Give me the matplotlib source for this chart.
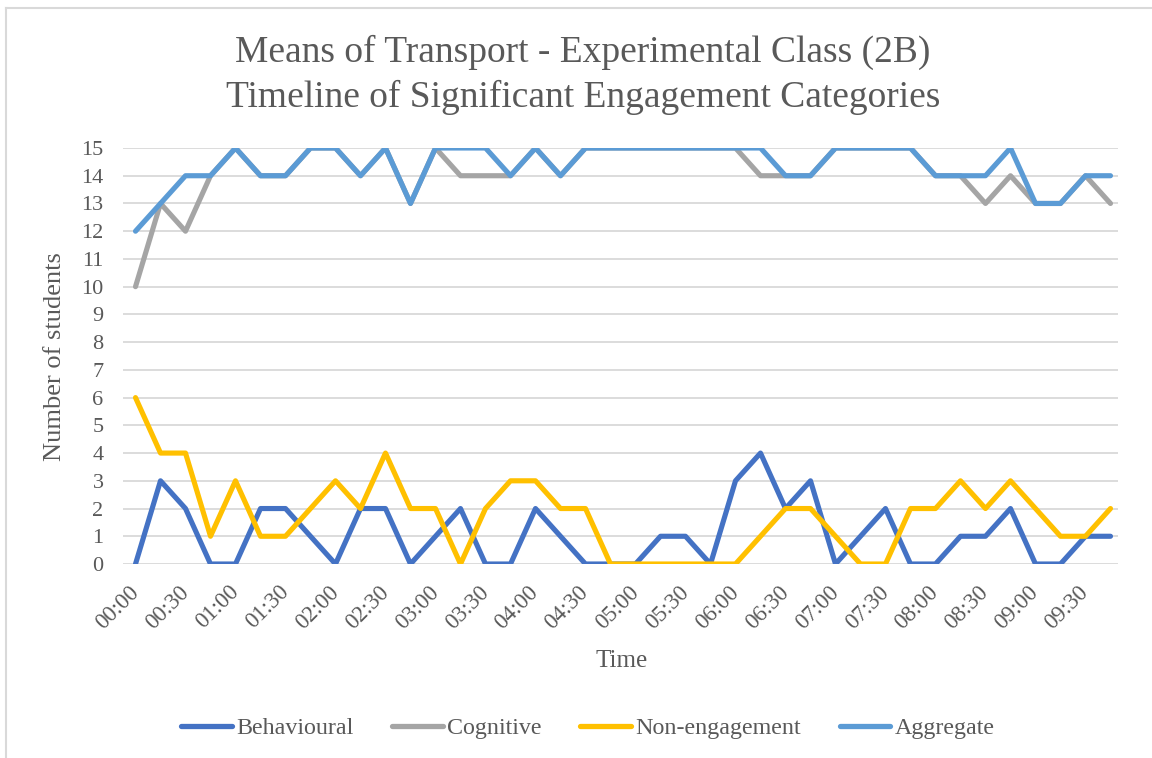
import matplotlib
matplotlib.use("Agg")
import matplotlib.pyplot as plt
from matplotlib.lines import Line2D

plt.rcParams["font.family"] = ["Liberation Serif", "DejaVu Serif"]

# 15-second samples from 00:00 to 09:45
times = [f"{s // 60:02d}:{s % 60:02d}" for s in range(0, 600, 15)]

behavioural = [0, 3, 2, 0, 0, 2, 2, 1, 0, 2,
               2, 0, 1, 2, 0, 0, 2, 1, 0, 0,
               0, 1, 1, 0, 3, 4, 2, 3, 0, 1,
               2, 0, 0, 1, 1, 2, 0, 0, 1, 1]
cognitive = [10, 13, 12, 14, 15, 14, 14, 15, 15, 14,
             15, 13, 15, 14, 14, 14, 15, 14, 15, 15,
             15, 15, 15, 15, 15, 14, 14, 14, 15, 15,
             15, 15, 14, 14, 13, 14, 13, 13, 14, 13]
non_engagement = [6, 4, 4, 1, 3, 1, 1, 2, 3, 2,
                  4, 2, 2, 0, 2, 3, 3, 2, 2, 0,
                  0, 0, 0, 0, 0, 1, 2, 2, 1, 0,
                  0, 2, 2, 3, 2, 3, 2, 1, 1, 2]
aggregate = [12, 13, 14, 14, 15, 14, 14, 15, 15, 14,
             15, 13, 15, 15, 15, 14, 15, 14, 15, 15,
             15, 15, 15, 15, 15, 15, 14, 14, 15, 15,
             15, 15, 14, 14, 14, 15, 13, 13, 14, 14]

series = [
    ("Behavioural", behavioural, "#4472c4"),
    ("Cognitive", cognitive, "#a5a5a5"),
    ("Non-engagement", non_engagement, "#ffc000"),
    ("Aggregate", aggregate, "#5b9bd5"),
]

text_col = "#595959"
W, H = 1152, 758

fig = plt.figure(figsize=(W / 100, H / 100), dpi=100)
ax = fig.add_axes([123 / W, 1 - 564 / H, (1118 - 123) / W, (564 - 148) / H])

x = list(range(len(times)))
for name, vals, col in series:
    ax.plot(x, vals, color=col, lw=3.7, solid_joinstyle="round",
            solid_capstyle="round", label=name)

ax.set_xlim(-0.5, 39.3)
ax.set_ylim(0, 15)
ax.set_yticks(range(16))
ax.set_xticks(x[::2])
ax.set_xticklabels(times[::2], rotation=45, ha="right", va="center",
                   rotation_mode="anchor", fontsize=16.5, color=text_col)
ax.tick_params(axis="y", labelsize=16, labelcolor=text_col, length=0, pad=14)
ax.tick_params(axis="x", length=0, pad=18)
ax.grid(axis="y", color="#d9d9d9", lw=1.3)
ax.set_axisbelow(True)
for sp in ax.spines.values():
    sp.set_visible(False)

fig.text(55 / W, 1 - 357 / H, "Number of students", rotation=90, fontsize=19,
         color=text_col, ha="center", va="center")
fig.text(622 / W, 1 - 661 / H, "Time", fontsize=18, color=text_col,
         ha="center", va="center")

fig.text(583 / W, 1 - 52 / H, "Means of Transport - Experimental Class (2B)",
         fontsize=27, color=text_col, ha="center", va="center")
fig.text(583 / W, 1 - 97 / H, "Timeline of Significant Engagement Categories",
         fontsize=27, color=text_col, ha="center", va="center")

handles = [Line2D([0], [0], color=c, lw=3.8, solid_capstyle="round") for _, _, c in series]
fig.legend(handles, [n for n, _, _ in series], loc="center", ncol=4,
           bbox_to_anchor=(588 / W, 1 - 728 / H), frameon=False, fontsize=17.3,
           labelcolor=text_col, handlelength=2.1, handletextpad=0.2,
           columnspacing=1.6)

# light chart border (cropped on right/bottom)
fig.add_artist(Line2D([6 / W, 6 / W], [0, 1 - 8 / H], color="#d9d9d9", lw=1.5,
                      transform=fig.transFigure))
fig.add_artist(Line2D([6 / W, 1], [1 - 8 / H, 1 - 8 / H], color="#d9d9d9", lw=1.5,
                      transform=fig.transFigure))

fig.savefig("out.png", dpi=100)
